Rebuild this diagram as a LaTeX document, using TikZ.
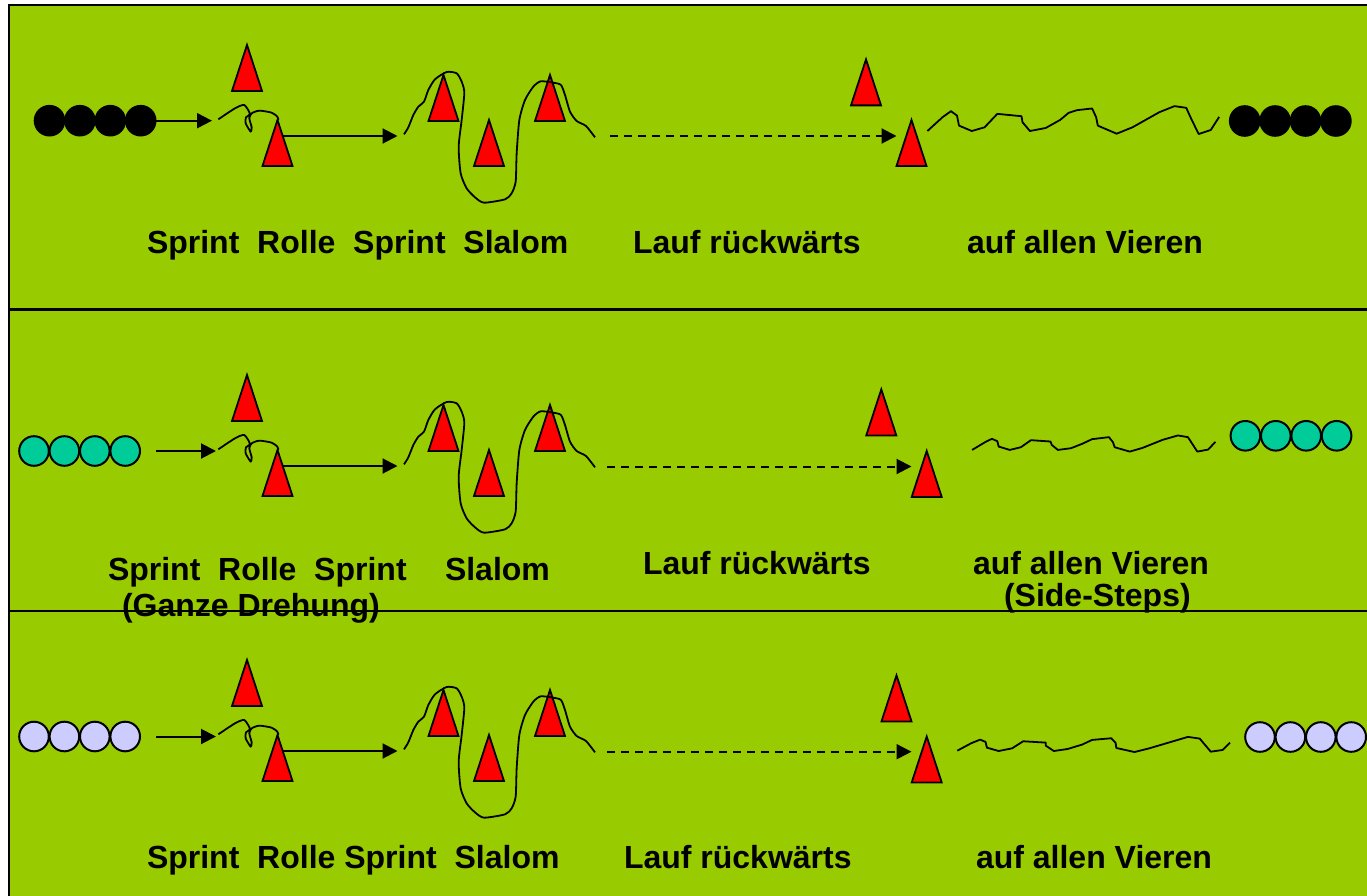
\documentclass[tikz,border=0pt]{standalone}
\usepackage{fontspec}
\setmainfont{Liberation Sans}
\usetikzlibrary{arrows.meta,shapes.geometric}
\definecolor{field}{HTML}{99CC00}
\definecolor{teal}{HTML}{00CC99}
\definecolor{lav}{HTML}{CCCCFF}
\tikzset{
  cone/.style={draw=black,fill=red,line width=1.8pt,isosceles triangle,isosceles triangle stretches,
    shape border rotate=90,minimum height=46pt,minimum width=30pt,inner sep=0pt,outer sep=0pt,anchor=apex},
  player/.style={circle,draw=black,line width=2pt,minimum size=29.6pt,inner sep=0pt,outer sep=0pt},
  go/.style={line width=2pt,-{Triangle[length=15pt,width=15pt]}},
  godash/.style={go,dash pattern=on 7.5pt off 6.5pt},
  track/.style={line width=1.8pt,line join=round},
  lab/.style={font=\fontsize{32pt}{36pt}\bfseries,anchor=base west,inner sep=0pt,outer sep=0pt,text=black},
  sep/.style={draw=black}
}
\newcommand{\playerrow}[4]{% prefix, fill, x, y
  \node[player,fill=#2] (#1a) at (#3,#4) {};
  \node[player,fill=#2] (#1b) at ({#3+30.4},#4) {};
  \node[player,fill=#2] (#1c) at ({#3+60.8},#4) {};
  \node[player,fill=#2] (#1d) at ({#3+91.2},#4) {};
}
\newcommand{\courseshapes}[1]{% prefix, dy
  \node[cone] (#1c1) at (247,{45+\dy}) {};
  \node[cone] (#1c2) at (277.5,{120+\dy}) {};
  \node[cone] (#1c3) at (443.5,{75+\dy}) {};
  \node[cone] (#1c4) at (489,{120+\dy}) {};
  \node[cone] (#1c5) at (550,{75+\dy}) {};
  \begin{scope}[shift={(200,{40+\dy})},x=0.33333pt,y=-0.33333pt]
    \draw[track] plot[smooth,tension=0.4] coordinates {(55,238)(105,205)(133,195)(150,222)(138,232)(137,250)(152,275)(155,262)(148,235)(155,220)(178,212)(215,218)(232,230)(235,240)};
    \draw[track] plot[smooth,tension=0.4] coordinates {(612,283)(625,262)(640,225)(655,200)(672,185)(685,150)(705,118)(740,96)(770,100)(785,125)(793,158)(785,240)(776,320)(782,400)(800,445)(825,472)(852,488)(915,478)(935,460)(947,425)(950,340)(958,240)(975,180)(1000,140)(1022,124)(1060,128)(1083,135)(1095,165)(1110,215)(1130,243)(1158,258)(1185,292)};
  \end{scope}
}
\begin{document}
\begin{tikzpicture}[x=1pt,y=-1pt]
\useasboundingbox (0,0) rectangle (1367,896);
\fill[white] (0,0) rectangle (1367,896);
\fill[field] (8.5,5.5) rectangle (1367,896);
\draw[sep,line width=2pt] (8.5,896) -- (8.5,5.5) -- (1367,5.5);
\draw[sep,line width=3pt] (8.5,309) -- (1367,309);
\draw[sep,line width=2pt] (8.5,611) -- (1367,611);

% row 1
\def\dy{0}\courseshapes{p}
\node[cone] (p6) at (866,59.4) {};
\node[cone] (p7) at (911.5,120) {};
\playerrow{pl}{black}{49.5}{120.7}
\playerrow{pr}{black}{1244.7}{121}
\coordinate (pa1) at (212,120.7);
\coordinate (pb0) at (283,136);
\coordinate (pb1) at (397.5,136);
\coordinate (pd0) at (610,136);
\coordinate (pd1) at (896.5,136);
\draw[go] (pld.east) -- (pa1);
\draw[go] (pb0) -- (pb1);
\draw[godash] (pd0) -- (pd1);
\begin{scope}[shift={(840,50)},x=0.33613pt,y=-0.33613pt]
\draw[track] (260,241)--(305,200)--(330,182)--(348,195)--(354,225)--(392,241)--(430,230)--(468,190)--(540,197)--(543,215)--(565,241)--(612,232)--(655,208)--(680,187)--(705,179)--(750,174)--(762,200)--(767,225)--(823,249)--(870,230)--(950,185)--(995,167)--(1030,172)--(1045,205)--(1067,250)--(1103,238)--(1128,199);
\end{scope}
\node[lab] (t1a) at (147,253) {Sprint\ \ Rolle\ \ Sprint\ \ Slalom};
\node[lab] (t1b) at (633,253) {Lauf rückwärts};
\node[lab] (t1c) at (967,253) {auf allen Vieren};

% row 2
\def\dy{330}\courseshapes{q}
\node[cone] (q6) at (881.3,389.4) {};
\node[cone] (q7) at (926.7,451) {};
\playerrow{ql}{teal}{34}{451}
\playerrow{qr}{teal}{1245.4}{435.8}
\coordinate (qa0) at (156,451);
\coordinate (qa1) at (216,451);
\coordinate (qb0) at (283,466);
\coordinate (qb1) at (397.5,466);
\coordinate (qd0) at (607,466.5);
\coordinate (qd1) at (911.5,466.5);
\draw[go] (qa0) -- (qa1);
\draw[go] (qb0) -- (qb1);
\draw[godash] (qd0) -- (qd1);
\begin{scope}[shift={(840,380)},x=0.33613pt,y=-0.33613pt]
\draw[track] (393,208)--(435,183)--(452,175)--(468,182)--(472,198)--(505,208)--(538,200)--(568,179)--(626,183)--(630,193)--(648,208)--(687,203)--(720,190)--(750,176)--(800,170)--(812,185)--(817,200)--(862,213)--(900,202)--(960,178)--(1005,165)--(1035,170)--(1063,213)--(1095,207)--(1117,184);
\end{scope}
\node[lab] (t2a) at (108,580) {Sprint\ \ Rolle\ \ Sprint};
\node[lab] (t2b) at (445,580) {Slalom};
\node[lab] (t2c) at (122,616) {(Ganze Drehung)};
\node[lab] (t2d) at (643,574) {Lauf rückwärts};
\node[lab] (t2e) at (973,574) {auf allen Vieren};
\node[lab] (t2f) at (1004,606) {(Side-Steps)};

% row 3
\def\dy{615}\courseshapes{r}
\node[cone] (r6) at (896.5,675.4) {};
\node[cone] (r7) at (926.7,736.5) {};
\playerrow{rl}{lav}{34}{736.5}
\playerrow{rr}{lav}{1260}{737}
\coordinate (ra0) at (156,736.5);
\coordinate (ra1) at (216,736.5);
\coordinate (rb0) at (283,751);
\coordinate (rb1) at (397.5,751);
\coordinate (rd0) at (607,751.7);
\coordinate (rd1) at (911.5,751.7);
\draw[go] (ra0) -- (ra1);
\draw[go] (rb0) -- (rb1);
\draw[godash] (rd0) -- (rd1);
\begin{scope}[shift={(840,670)},x=0.33613pt,y=-0.33613pt]
\draw[track] (349,240)--(390,218)--(417,207)--(433,214)--(437,231)--(472,241)--(512,233)--(545,212)--(612,216)--(612,225)--(636,241)--(677,235)--(720,222)--(750,208)--(807,203)--(820,217)--(822,232)--(876,244)--(920,233)--(1035,199)--(1070,204)--(1103,243)--(1138,238)--(1160,216);
\end{scope}
\node[lab] (t3a) at (147,868) {Sprint\ \ Rolle Sprint\ \ Slalom};
\node[lab] (t3b) at (624,868) {Lauf rückwärts};
\node[lab] (t3c) at (976,868) {auf allen Vieren};
\end{tikzpicture}
\end{document}
